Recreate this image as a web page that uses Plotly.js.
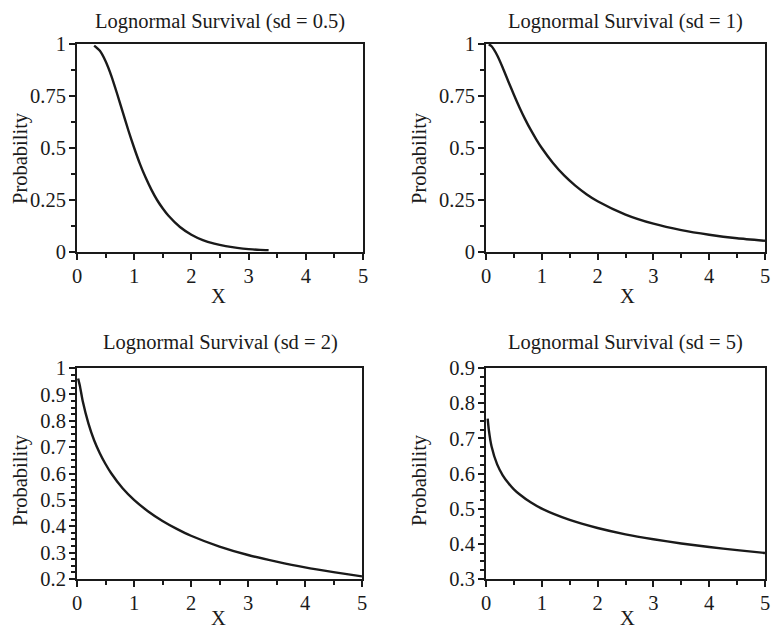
<!DOCTYPE html>
<html>
<head>
<meta charset="utf-8">
<script src="https://cdn.plot.ly/plotly-3.0.1.min.js"></script>
<style>html,body{margin:0;padding:0;background:#fff;}#chart{width:773px;height:628px;}</style>
</head>
<body>
<div id="chart"></div>
<script>
// ---- Data ----
const titles = ["Lognormal Survival (sd = 0.5)", "Lognormal Survival (sd = 1)", "Lognormal Survival (sd = 2)", "Lognormal Survival (sd = 5)"];

const xSd05 = [0.3, 0.4, 0.5, 0.6, 0.7, 0.8, 0.9, 1.0, 1.1, 1.2, 1.3, 1.4, 1.5, 1.6, 1.8, 2.0, 2.2, 2.4, 2.6, 2.8, 3.0, 3.2, 3.35];
const ySd05 = [0.992, 0.967, 0.917, 0.847, 0.762, 0.672, 0.583, 0.5, 0.424, 0.358, 0.300, 0.250, 0.209, 0.174, 0.120, 0.083, 0.057, 0.040, 0.028, 0.020, 0.014, 0.010, 0.009];

const xSd1 = [0.05, 0.1, 0.2, 0.3, 0.4, 0.5, 0.6, 0.7, 0.8, 0.9, 1.0, 1.2, 1.4, 1.6, 1.8, 2.0, 2.5, 3.0, 3.5, 4.0, 4.5, 5.0];
const ySd1 = [0.999, 0.989, 0.946, 0.886, 0.820, 0.756, 0.695, 0.639, 0.588, 0.542, 0.5, 0.428, 0.368, 0.319, 0.278, 0.244, 0.180, 0.136, 0.105, 0.083, 0.066, 0.054];

const xSd2 = [0.02, 0.05, 0.1, 0.2, 0.3, 0.4, 0.5, 0.6, 0.8, 1.0, 1.25, 1.5, 1.75, 2.0, 2.5, 3.0, 3.5, 4.0, 4.5, 5.0];
const ySd2 = [0.960, 0.933, 0.875, 0.790, 0.726, 0.677, 0.636, 0.601, 0.544, 0.5, 0.456, 0.420, 0.390, 0.364, 0.323, 0.291, 0.266, 0.244, 0.226, 0.210];

const xSd5 = [0.03, 0.05, 0.1, 0.2, 0.3, 0.4, 0.5, 0.6, 0.8, 1.0, 1.5, 2.0, 2.5, 3.0, 3.5, 4.0, 4.5, 5.0];
const ySd5 = [0.756, 0.725, 0.677, 0.626, 0.595, 0.573, 0.555, 0.541, 0.518, 0.5, 0.468, 0.445, 0.427, 0.413, 0.401, 0.391, 0.382, 0.374];

const xTicks = [0, 1, 2, 3, 4, 5];
const yRanges = [[0, 1], [0, 1], [0.2, 1], [0.3, 0.9]];
const yDticks = [0.25, 0.25, 0.1, 0.1];
const yMinor = [0.125, 0.125, 0.025, 0.025];
const xLabel = "X";
const yLabel = "Probability";

// ---- Layout helpers ----
const W = 773, H = 628;
const px = v => v / W;
const py = v => 1 - v / H;
const FONT = "Liberation Serif, Times New Roman, serif";
const FS = 20.5;
const INK = "#1a1a1a";

// plot boxes in pixels [left, right, top, bottom]
const boxes = [[77, 363, 44, 252], [486, 765, 44, 252], [77, 362, 368, 579], [486, 765, 368, 579]];

const xs = [xSd05, xSd1, xSd2, xSd5];
const ys = [ySd05, ySd1, ySd2, ySd5];

const traces = [];
const layout = {
  width: W, height: H,
  margin: {l: 0, r: 0, t: 0, b: 0},
  paper_bgcolor: "#fff", plot_bgcolor: "#fff",
  showlegend: false,
  font: {family: FONT, size: FS, color: INK},
  annotations: []
};

for (let i = 0; i < 4; i++) {
  const s = i === 0 ? "" : String(i + 1);
  traces.push({
    x: xs[i], y: ys[i], type: "scatter", mode: "lines",
    line: {color: INK, width: 2.4, shape: "spline", smoothing: 0.6},
    xaxis: "x" + s, yaxis: "y" + s, hoverinfo: "skip"
  });
  const [l, r, t, b] = boxes[i];
  layout["xaxis" + s] = {
    domain: [px(l), px(r)], anchor: "y" + s,
    range: [0, 5], tickvals: xTicks, ticktext: xTicks.map(String),
    showgrid: false, zeroline: false,
    showline: true, mirror: true, linecolor: INK, linewidth: 2,
    ticks: "outside", ticklen: 6, tickwidth: 2, tickcolor: INK,
    minor: {dtick: 0.5, tick0: 0, ticks: "outside", ticklen: 4, tickwidth: 2, tickcolor: INK, showgrid: false},
    tickfont: {family: FONT, size: FS, color: INK},
    ticklabeloverflow: "allow",
    ticklabelstandoff: -2,
    fixedrange: true
  };
  layout["yaxis" + s] = {
    domain: [py(b), py(t)], anchor: "x" + s,
    range: yRanges[i], tick0: 0, dtick: yDticks[i],
    showgrid: false, zeroline: false,
    showline: true, mirror: true, linecolor: INK, linewidth: 2,
    ticks: "outside", ticklen: 6, tickwidth: 2, tickcolor: INK,
    minor: {dtick: yMinor[i], tick0: 0, ticks: "outside", ticklen: 4, tickwidth: 2, tickcolor: INK, showgrid: false},
    tickfont: {family: FONT, size: FS, color: INK},
    ticklabeloverflow: "allow",
    ticklabelstandoff: -1,
    fixedrange: true
  };
  const left = i % 2 === 0;
  const top = i < 2;
  // subplot title
  layout.annotations.push({
    text: titles[i], xref: "paper", yref: "paper",
    x: px(left ? 220 : 625), y: py(top ? 22 : 342),
    xanchor: "center", yanchor: "middle", showarrow: false,
    font: {family: FONT, size: FS, color: INK}
  });
  // x label
  layout.annotations.push({
    text: xLabel, xref: "paper", yref: "paper",
    x: px(left ? 218 : 627), y: py(top ? 296 : 618),
    xanchor: "center", yanchor: "middle", showarrow: false,
    font: {family: FONT, size: FS, color: INK}
  });
  // y label
  layout.annotations.push({
    text: yLabel, xref: "paper", yref: "paper", textangle: -90,
    x: px(left ? 20 : 419), y: py(top ? 158 : 480),
    xanchor: "center", yanchor: "middle", showarrow: false,
    font: {family: FONT, size: FS, color: INK}
  });
}

Plotly.newPlot("chart", traces, layout, {displayModeBar: false, staticPlot: true});
</script>
</body>
</html>
